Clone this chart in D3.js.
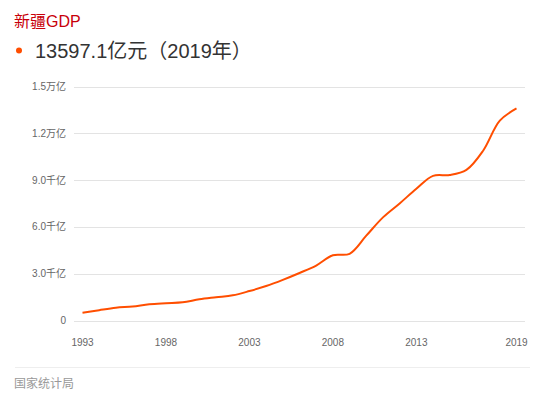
<!DOCTYPE html>
<html>
<head>
  <meta charset="utf-8">
  <title>新疆GDP</title>
  <script src="https://cdnjs.cloudflare.com/ajax/libs/d3/7.8.5/d3.min.js"></script>
  <style>
  body { margin: 0; background: #fff; }
  svg { display: block; font-family: "Liberation Sans", "Noto Sans CJK SC", sans-serif; }
  </style>
</head>
<body>
<script>

// values, 亿元
var years = [1993, 1994, 1995, 1996, 1997, 1998, 1999, 2000, 2001, 2002, 2003, 2004, 2005,
             2006, 2007, 2008, 2009, 2010, 2011, 2012, 2013, 2014, 2015, 2016, 2017, 2018, 2019];
var gdp = [495, 662, 815, 901, 1040, 1107, 1163, 1364, 1492, 1613, 1886, 2209, 2604,
           3045, 3523, 4183, 4277, 5438, 6610, 7505, 8444, 9274, 9325, 9650, 10882, 12809, 13597.1];
var yTicks = [0, 3000, 6000, 9000, 12000, 15000];
var yTickLabels = ["0", "3.0千亿", "6.0千亿", "9.0千亿", "1.2万亿", "1.5万亿"];
var xTicks = [1993, 1998, 2003, 2008, 2013, 2019];

var width = 543, height = 395;
var svg = d3.select("body").append("svg")
    .attr("width", width)
    .attr("height", height);

svg.append("text")
    .attr("x", 14).attr("y", 27)
    .attr("font-size", "16px")
    .attr("fill", "#c8000a")
    .text("新疆GDP");

svg.append("circle")
    .attr("cx", 19).attr("cy", 50.5).attr("r", 3)
    .attr("fill", "#ff4e00");

svg.append("text")
    .attr("x", 35).attr("y", 58)
    .attr("font-size", "20px")
    .attr("fill", "#333")
    .text("13597.1亿元（2019年）");

var x = d3.scaleLinear()
    .domain([1993, 2019])
    .range([82.5, 516.5]);

var y = d3.scaleLinear()
    .domain([0, 15000])
    .range([320.5, 86.5]);

var gridLeft = 74, gridRight = 525;

// grid lines
svg.append("g").selectAll("line")
    .data(yTicks)
    .enter().append("line")
    .attr("x1", gridLeft).attr("x2", gridRight)
    .attr("y1", function(d) { return Math.round(y(d)) + 0.5; })
    .attr("y2", function(d) { return Math.round(y(d)) + 0.5; })
    .attr("stroke", "#e3e3e3")
    .attr("stroke-width", 1);

svg.append("g").selectAll("text")
    .data(yTicks)
    .enter().append("text")
    .attr("x", 66)
    .attr("y", function(d) { return y(d) + 3.5; })
    .attr("text-anchor", "end")
    .attr("font-size", "10px")
    .attr("fill", "#666")
    .text(function(d, i) { return yTickLabels[i]; });

svg.append("g").selectAll("text")
    .data(xTicks)
    .enter().append("text")
    .attr("x", function(d) { return x(d); })
    .attr("y", 346)
    .attr("text-anchor", "middle")
    .attr("font-size", "10px")
    .attr("fill", "#666")
    .text(function(d) { return d; });

var line = d3.line()
    .x(function(d, i) { return x(years[i]); })
    .y(function(d) { return y(d); })
    .curve(d3.curveCatmullRom.alpha(0.5));

svg.append("path")
    .datum(gdp)
    .attr("d", line)
    .attr("fill", "none")
    .attr("stroke", "#ff4e00")
    .attr("stroke-width", 2);

// footer
svg.append("line")
    .attr("x1", 15).attr("x2", 530)
    .attr("y1", 367.5).attr("y2", 367.5)
    .attr("stroke", "#eee");

svg.append("text")
    .attr("x", 14).attr("y", 388)
    .attr("font-size", "12px")
    .attr("fill", "#999")
    .text("国家统计局");

</script>
</body>
</html>
